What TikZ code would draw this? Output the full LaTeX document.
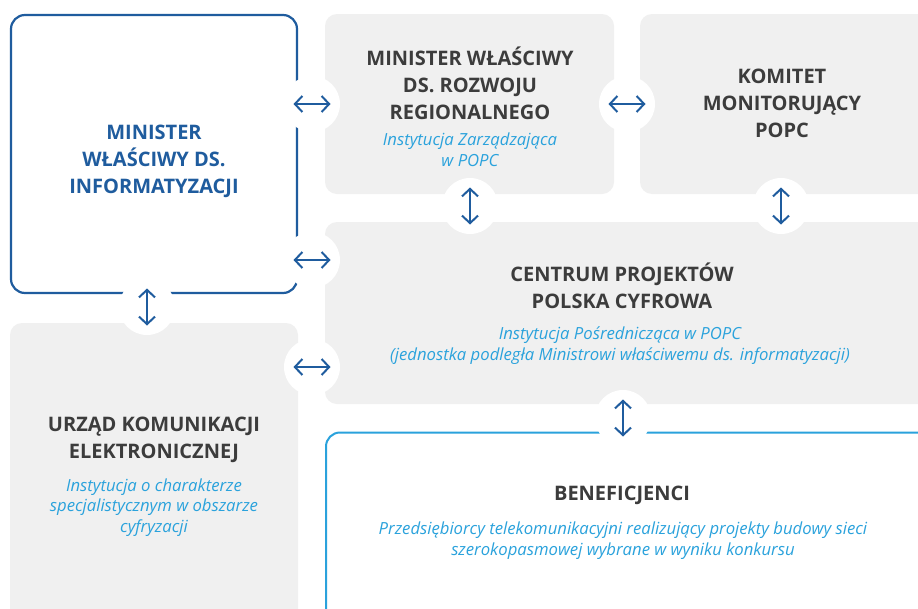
\documentclass[tikz,border=0pt]{standalone}
\usepackage{fontspec}
\setmainfont{Open Sans}
\usetikzlibrary{arrows.meta}
\definecolor{dblue}{HTML}{1F5C9E}
\definecolor{lblue}{HTML}{2AA2DC}
\definecolor{boxgray}{HTML}{F0F0F0}
\definecolor{tgray}{HTML}{3C3C3C}
\begin{document}
\begin{tikzpicture}[x=1pt,y=-1pt,
 graybox/.style={rectangle, rounded corners=12pt, fill=boxgray, draw=none, inner sep=0pt},
 bluebox/.style={rectangle, rounded corners=14pt, fill=white, draw=dblue, line width=2.2pt, inner sep=0pt},
 lbluebox/.style={rectangle, rounded corners=14pt, fill=white, draw=lblue, line width=2pt, inner sep=0pt},
 hole/.style={circle, fill=white, minimum size=56pt, inner sep=0pt},
 title/.style={font=\fontsize{20}{27}\selectfont\bfseries, text=tgray, align=center},
 sub/.style={font=\fontsize{16.7}{20.8}\selectfont\itshape, text=lblue, align=center},
 arr/.style={draw=dblue, line width=2pt, {Straight Barb[length=7.5pt,width=16pt]}-{Straight Barb[length=7.5pt,width=16pt]}}
]
\useasboundingbox (0,0) rectangle (918,608);
\clip (0,0) rectangle (918,608);
\fill[white] (0,0) rectangle (918,608);

% boxes
\node[bluebox, minimum width=286pt, minimum height=278pt] (mi) at (154,154) {};
\node[graybox, minimum width=289pt, minimum height=180pt] (mr) at (469.5,104) {};
\node[graybox, minimum width=300pt, minimum height=180pt] (km) at (790,104) {};
\node[graybox, minimum width=615pt, minimum height=182pt] (cp) at (632.5,313) {};
\node[graybox, minimum width=288pt, minimum height=307pt] (uk) at (154,476.5) {};
\node[lbluebox, minimum width=614pt, minimum height=198pt] (bf) at (633,531.5) {};

% holes
\node[hole] (c1) at (312,104) {};
\node[hole] (c2) at (627,104) {};
\node[hole] (c3) at (470,206) {};
\node[hole] (c4) at (781,206) {};
\node[hole] (c5) at (312,260) {};
\node[hole] (c6) at (147,307) {};
\node[hole] (c7) at (312,367) {};
\node[hole] (c8) at (623,418) {};

% texts
\node[title, text=dblue] (tmi) at (154,161) {MINISTER\\WŁAŚCIWY DS.\\INFORMATYZACJI};
\node[title] (tmr) at (470,83) {MINISTER WŁAŚCIWY\\DS. ROZWOJU\\REGIONALNEGO};
\node[sub] (smr) at (470,150) {Instytucja Zarządzająca\\w POPC};
\node[title] (tkm) at (782,103.5) {KOMITET\\MONITORUJĄCY\\POPC};
\node[title] (tcp) at (622,285.5) {CENTRUM PROJEKTÓW\\POLSKA CYFROWA};
\node[sub] (scp) at (620,346) {Instytucja Pośrednicząca w POPC\\(jednostka podległa Ministrowi właściwemu ds. informatyzacji)};
\node[title] (tuk) at (154,439.5) {URZĄD KOMUNIKACJI\\ELEKTRONICZNEJ};
\node[sub] (suk) at (154,507.5) {Instytucja o charakterze\\specjalistycznym w obszarze\\cyfryzacji};
\node[title] (tbf) at (622,495) {BENEFICJENCI};
\node[sub] (sbf) at (623,540.5) {Przedsiębiorcy telekomunikacyjni realizujący projekty budowy sieci\\szerokopasmowej wybrane w wyniku konkursu};

% arrows
\draw[arr] ([xshift=-18.5pt]c1.center) -- ([xshift=18.5pt]c1.center);
\draw[arr] ([xshift=-18.5pt]c2.center) -- ([xshift=18.5pt]c2.center);
\draw[arr] ([yshift=-18.5pt]c3.center) -- ([yshift=18.5pt]c3.center);
\draw[arr] ([yshift=-18.5pt]c4.center) -- ([yshift=18.5pt]c4.center);
\draw[arr] ([xshift=-18.5pt]c5.center) -- ([xshift=18.5pt]c5.center);
\draw[arr] ([yshift=-18.5pt]c6.center) -- ([yshift=18.5pt]c6.center);
\draw[arr] ([xshift=-18.5pt]c7.center) -- ([xshift=18.5pt]c7.center);
\draw[arr] ([yshift=-18.5pt]c8.center) -- ([yshift=18.5pt]c8.center);
\end{tikzpicture}
\end{document}
